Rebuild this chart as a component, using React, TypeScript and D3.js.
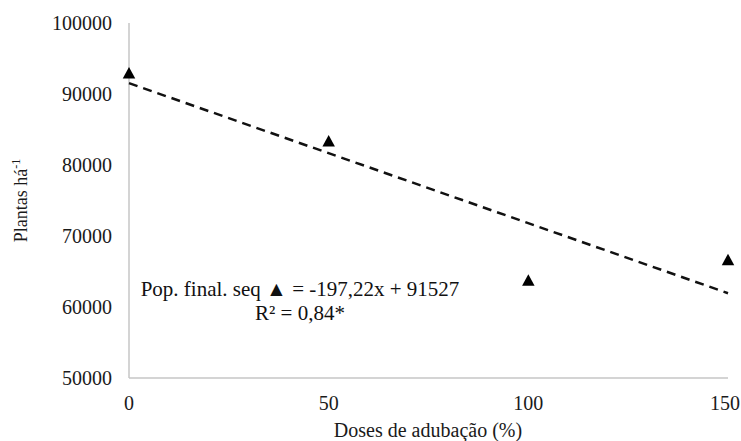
import React from "react";
import * as d3 from "d3";

const doses = [0, 50, 100, 150];
const plantas = [93000, 83400, 63800, 66700];
const yTicks = [50000, 60000, 70000, 80000, 90000, 100000];
const xTicks = [0, 50, 100, 150];
const slope = -197.22;
const intercept = 91527;
const eqLine1 = "Pop. final. seq ▲ = -197,22x + 91527";
const eqLine2 = "R² = 0,84*";
const xTitle = "Doses de adubação (%)";

const W = 741;
const H = 441;
const font = "'Liberation Serif', 'Times New Roman', serif";

export default function App() {
  const x = d3.scaleLinear().domain([0, 150]).range([129, 728]);
  const y = d3.scaleLinear().domain([50000, 100000]).range([378, 23]);
  const trend = d3
    .line<number>()
    .x((d) => x(d))
    .y((d) => y(slope * d + intercept));
  const tri = (cx: number, cy: number) => {
    const w = 12.5;
    const h = 11.5;
    return `M${cx},${cy - h / 2}L${cx + w / 2},${cy + h / 2}L${cx - w / 2},${cy + h / 2}Z`;
  };
  return (
    <svg
      width={W}
      height={H}
      style={{ position: "absolute", left: 0, top: 0, background: "#fff" }}
      fontFamily={font}
    >
      <rect width={W} height={H} fill="#fff" />
      <line x1={x(0)} x2={x(0)} y1={y(100000)} y2={y(50000)} stroke="#c6c6c6" strokeWidth={1.5} />
      <line x1={x(0)} x2={x(150)} y1={y(50000)} y2={y(50000)} stroke="#c6c6c6" strokeWidth={1.5} />
      {yTicks.map((t) => (
        <text key={t} x={112} y={y(t)} dy="0.35em" textAnchor="end" fontSize={20} fill="#1a1a1a">
          {t}
        </text>
      ))}
      {xTicks.map((t, i) => {
        const last = i === xTicks.length - 1;
        return (
          <text
            key={t}
            x={last ? 740 : x(t)}
            y={410}
            textAnchor={last ? "end" : "middle"}
            fontSize={20}
            fill="#1a1a1a"
          >
            {t}
          </text>
        );
      })}
      <text x={428} y={437} textAnchor="middle" fontSize={20} fill="#1a1a1a">
        {xTitle}
      </text>
      <text
        transform={`translate(27,${(y(100000) + y(50000)) / 2}) rotate(-90)`}
        textAnchor="middle"
        fontSize={18}
        fill="#1a1a1a"
      >
        Plantas há
        <tspan fontSize={12} dy={-7}>-1</tspan>
      </text>
      <path
        d={trend([0, 150]) || ""}
        fill="none"
        stroke="#111"
        strokeWidth={2.5}
        strokeDasharray="9,6"
      />
      {doses.map((d, i) => (
        <path key={d} d={tri(x(d), y(plantas[i]))} fill="#000" />
      ))}
      <text x={300} y={296} textAnchor="middle" fontSize={21} fill="#111">
        {eqLine1}
      </text>
      <text x={300} y={320} textAnchor="middle" fontSize={21} fill="#111">
        {eqLine2}
      </text>
    </svg>
  );
}
